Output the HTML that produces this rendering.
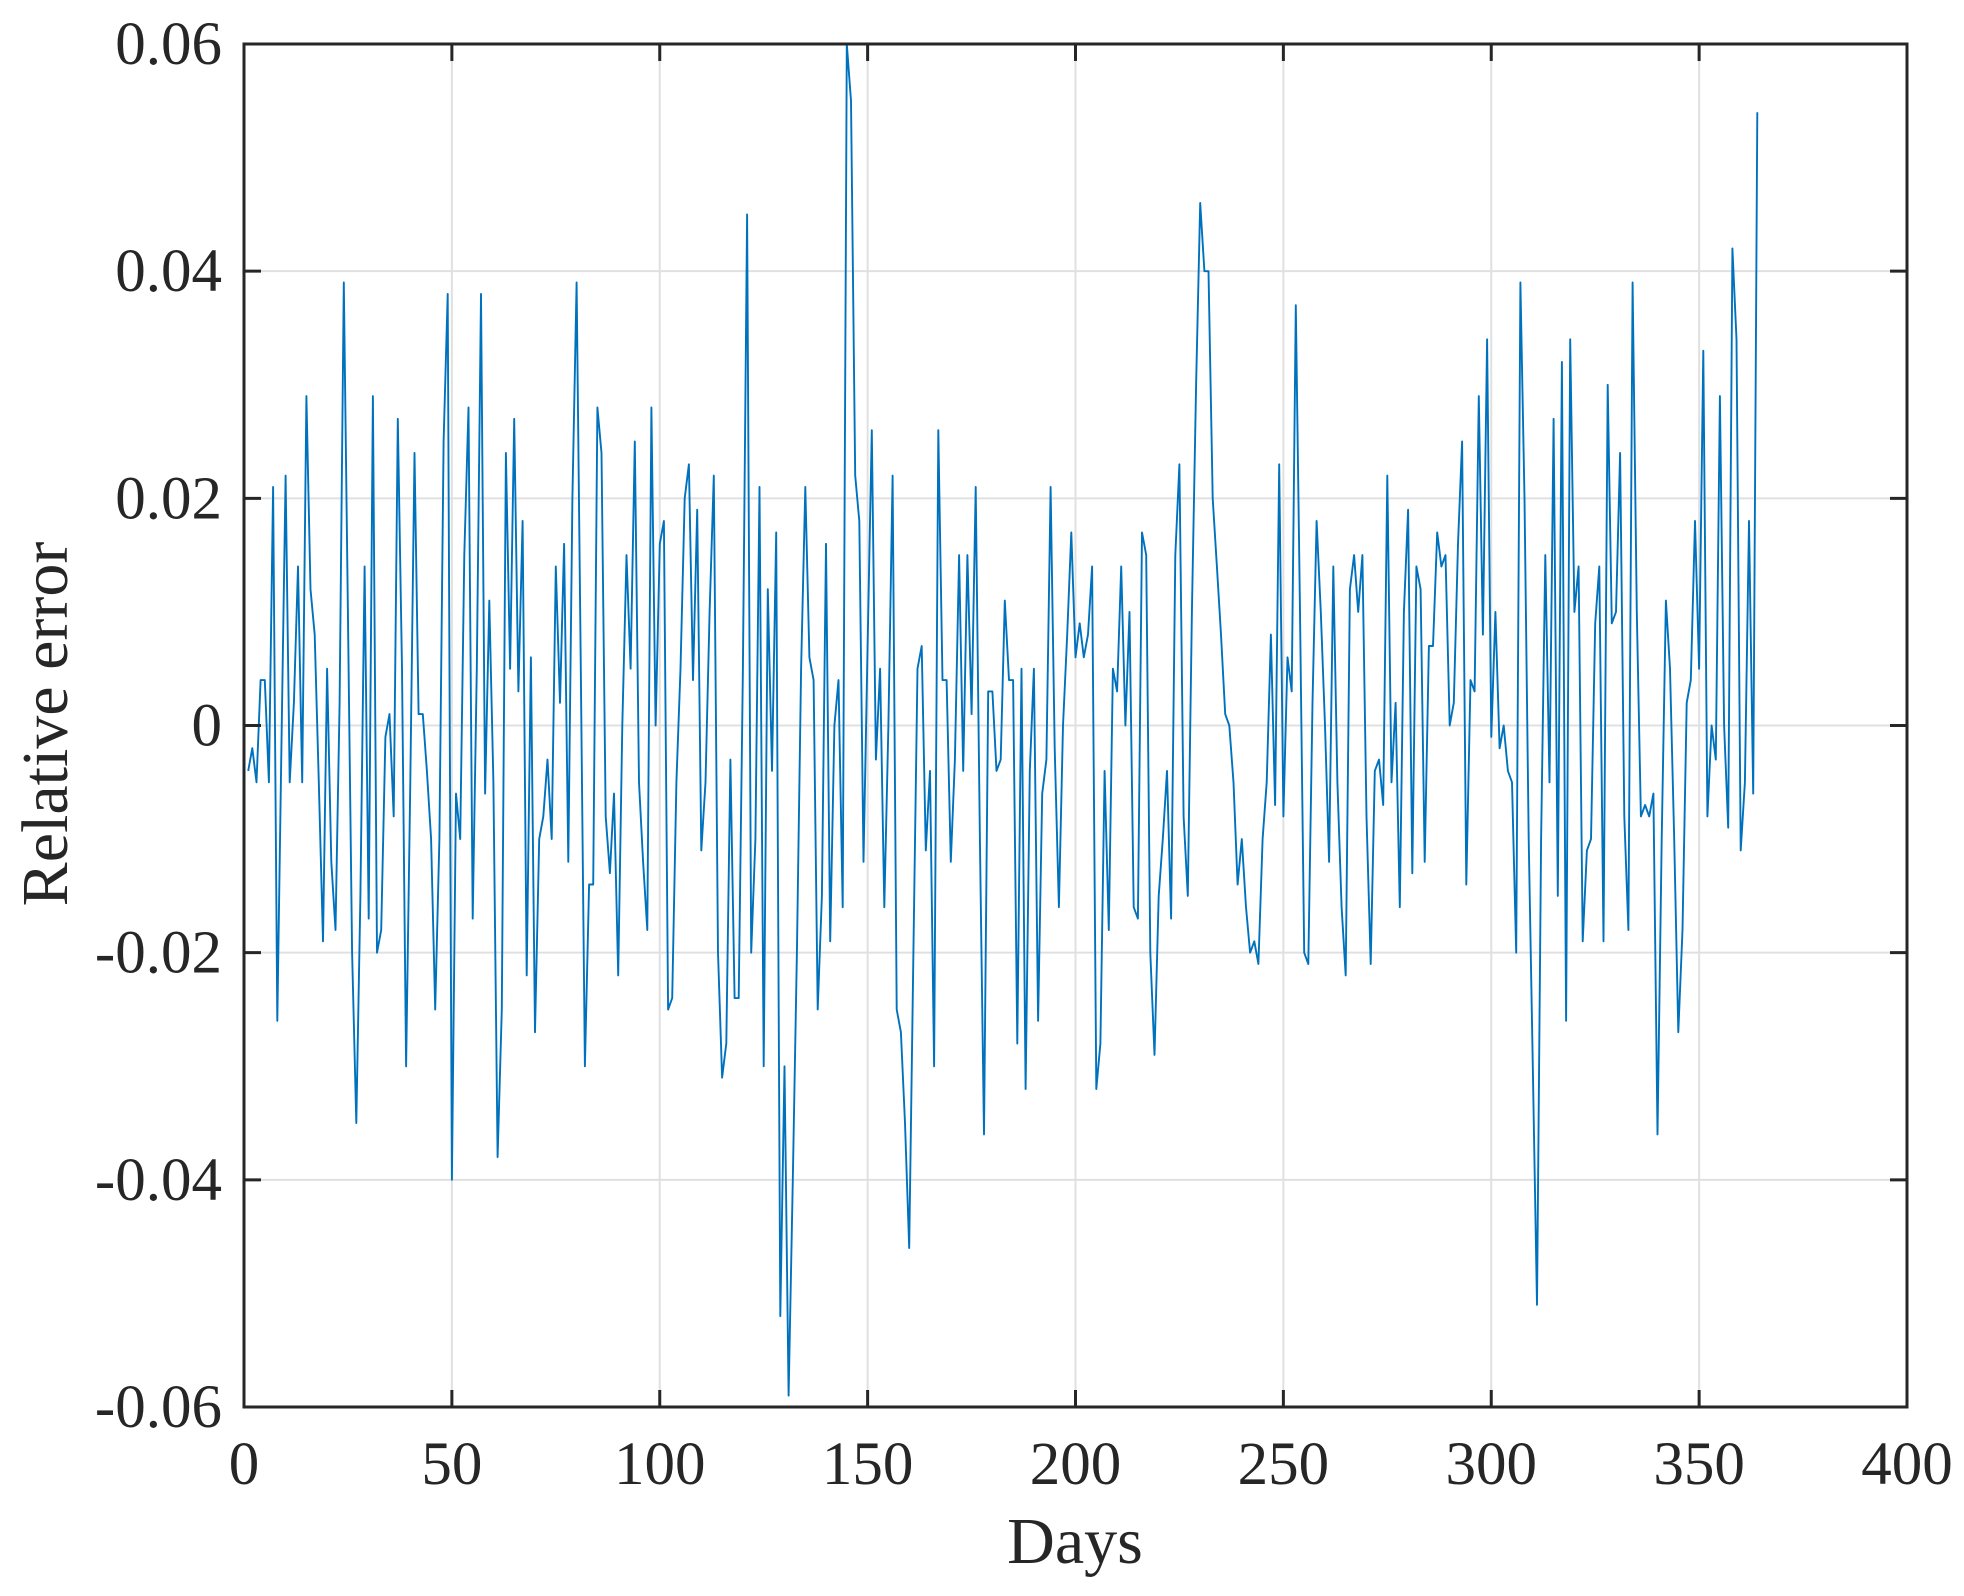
<!DOCTYPE html>
<html><head><meta charset="utf-8"><style>
html,body{margin:0;padding:0;background:#fff;}
svg{display:block;}
text{font-family:"Liberation Serif",serif;fill:#262626;}
</style></head><body>
<svg id="chart" width="1964" height="1596" viewBox="0 0 1964 1596" xmlns="http://www.w3.org/2000/svg">
<rect width="1964" height="1596" fill="#fff"/>
<g id="grid"></g>
<g id="series"></g>
<g id="axes"></g>
<text x="1075" y="1563" font-size="66" text-anchor="middle">Days</text>
<text transform="translate(67,724) rotate(-90)" font-size="66" text-anchor="middle">Relative error</text>
</svg>
<script>
const xTicks=[0,50,100,150,200,250,300,350,400];
const yTicks=[-0.06,-0.04,-0.02,0,0.02,0.04,0.06];
const yTickLabels=["-0.06","-0.04","-0.02","0","0.02","0.04","0.06"];
const days=[];for(let i=1;i<=364;i++)days.push(i);
const errors=[-0.004,-0.002,-0.005,0.004,0.004,-0.005,0.021,-0.026,-0.002,0.022,-0.005,0.002,0.014,-0.005,0.029,0.012,0.008,-0.005,-0.019,0.005,
-0.012,-0.018,0.002,0.039,0.01,-0.02,-0.035,-0.015,0.014,-0.017,0.029,-0.02,-0.018,-0.001,0.001,-0.008,0.027,0.005,-0.03,-0.005,
0.024,0.001,0.001,-0.004,-0.01,-0.025,-0.01,0.025,0.038,-0.04,-0.006,-0.01,0.015,0.028,-0.017,0.005,0.038,-0.006,0.011,-0.005,
-0.038,-0.025,0.024,0.005,0.027,0.003,0.018,-0.022,0.006,-0.027,-0.01,-0.008,-0.003,-0.01,0.014,0.002,0.016,-0.012,0.02,0.039,
0.005,-0.03,-0.014,-0.014,0.028,0.024,-0.008,-0.013,-0.006,-0.022,0.0,0.015,0.005,0.025,-0.005,-0.012,-0.018,0.028,0.0,0.016,
0.018,-0.025,-0.024,-0.005,0.005,0.02,0.023,0.004,0.019,-0.011,-0.005,0.01,0.022,-0.02,-0.031,-0.028,-0.003,-0.024,-0.024,0.005,
0.045,-0.02,-0.01,0.021,-0.03,0.012,-0.004,0.017,-0.052,-0.03,-0.059,-0.04,-0.02,0.005,0.021,0.006,0.004,-0.025,-0.015,0.016,
-0.019,0.0,0.004,-0.016,0.06,0.055,0.022,0.018,-0.012,0.007,0.026,-0.003,0.005,-0.016,0.0,0.022,-0.025,-0.027,-0.035,-0.046,
-0.02,0.005,0.007,-0.011,-0.004,-0.03,0.026,0.004,0.004,-0.012,-0.003,0.015,-0.004,0.015,0.001,0.021,-0.01,-0.036,0.003,0.003,
-0.004,-0.003,0.011,0.004,0.004,-0.028,0.005,-0.032,-0.004,0.005,-0.026,-0.006,-0.003,0.021,-0.002,-0.016,0.0,0.008,0.017,0.006,
0.009,0.006,0.008,0.014,-0.032,-0.028,-0.004,-0.018,0.005,0.003,0.014,0.0,0.01,-0.016,-0.017,0.017,0.015,-0.02,-0.029,-0.015,
-0.01,-0.004,-0.017,0.015,0.023,-0.008,-0.015,0.01,0.03,0.046,0.04,0.04,0.02,0.014,0.008,0.001,0.0,-0.005,-0.014,-0.01,
-0.016,-0.02,-0.019,-0.021,-0.01,-0.005,0.008,-0.007,0.023,-0.008,0.006,0.003,0.037,0.01,-0.02,-0.021,0.002,0.018,0.01,0.0,
-0.012,0.014,-0.005,-0.016,-0.022,0.012,0.015,0.01,0.015,-0.008,-0.021,-0.004,-0.003,-0.007,0.022,-0.005,0.002,-0.016,0.01,0.019,
-0.013,0.014,0.012,-0.012,0.007,0.007,0.017,0.014,0.015,0.0,0.002,0.016,0.025,-0.014,0.004,0.003,0.029,0.008,0.034,-0.001,
0.01,-0.002,0.0,-0.004,-0.005,-0.02,0.039,0.02,-0.01,-0.03,-0.051,-0.01,0.015,-0.005,0.027,-0.015,0.032,-0.026,0.034,0.01,
0.014,-0.019,-0.011,-0.01,0.009,0.014,-0.019,0.03,0.009,0.01,0.024,-0.008,-0.018,0.039,0.01,-0.008,-0.007,-0.008,-0.006,-0.036,
-0.01,0.011,0.005,-0.01,-0.027,-0.018,0.002,0.004,0.018,0.005,0.033,-0.008,0.0,-0.003,0.029,0.0,-0.009,0.042,0.034,-0.011,
-0.005,0.018,-0.006,0.054];
const L=244,R=1907,T=44,B=1407;
const xs=v=>L+(v-0)/(400-0)*(R-L);
const ys=v=>B-(v+0.06)/0.12*(B-T);
const NS="http://www.w3.org/2000/svg";
function mk(tag,attrs,parent){const e=document.createElementNS(NS,tag);for(const k in attrs)e.setAttribute(k,attrs[k]);parent.appendChild(e);return e;}
const grid=document.getElementById('grid'),axes=document.getElementById('axes'),series=document.getElementById('series');
xTicks.forEach((t,i)=>{
  const x=xs(t);
  if(i>0&&i<xTicks.length-1){const g=mk('line',{x1:x,x2:x,y1:T,y2:B,stroke:'#e0e0e0','stroke-width':2},grid);
  
  }
  const a=mk('line',{x1:x,x2:x,y1:B,y2:B-17,stroke:'#262626','stroke-width':3},axes);
  
  
  const b=mk('line',{x1:x,x2:x,y1:T,y2:T+17,stroke:'#262626','stroke-width':3},axes);
  
  
  const tx=mk('text',{x:x,y:1484,'font-size':61,'text-anchor':'middle'},axes);tx.textContent=String(t);
  
  
});
yTicks.forEach((t,i)=>{
  const y=ys(t);
  if(i>0&&i<yTicks.length-1){const g=mk('line',{x1:L,x2:R,y1:y,y2:y,stroke:'#e0e0e0','stroke-width':2},grid);
  
  }
  const a=mk('line',{x1:L,x2:L+17,y1:y,y2:y,stroke:'#262626','stroke-width':3},axes);
  
  
  const b=mk('line',{x1:R,x2:R-17,y1:y,y2:y,stroke:'#262626','stroke-width':3},axes);
  
  
  const tx=mk('text',{x:L-22,y:y+20,'font-size':61,'text-anchor':'end'},axes);tx.textContent=yTickLabels[i];
  
  
});
const box=mk('rect',{x:L,y:T,width:R-L,height:B-T,fill:'none',stroke:'#262626','stroke-width':3},axes);


const pts=days.map((d,i)=>xs(d).toFixed(1)+','+ys(errors[i]).toFixed(1)).join(' ');
const line=mk('polyline',{points:pts,fill:'none',stroke:'#0072BD','stroke-width':1.9,'stroke-linejoin':'round'},series);


</script>
</body></html>
